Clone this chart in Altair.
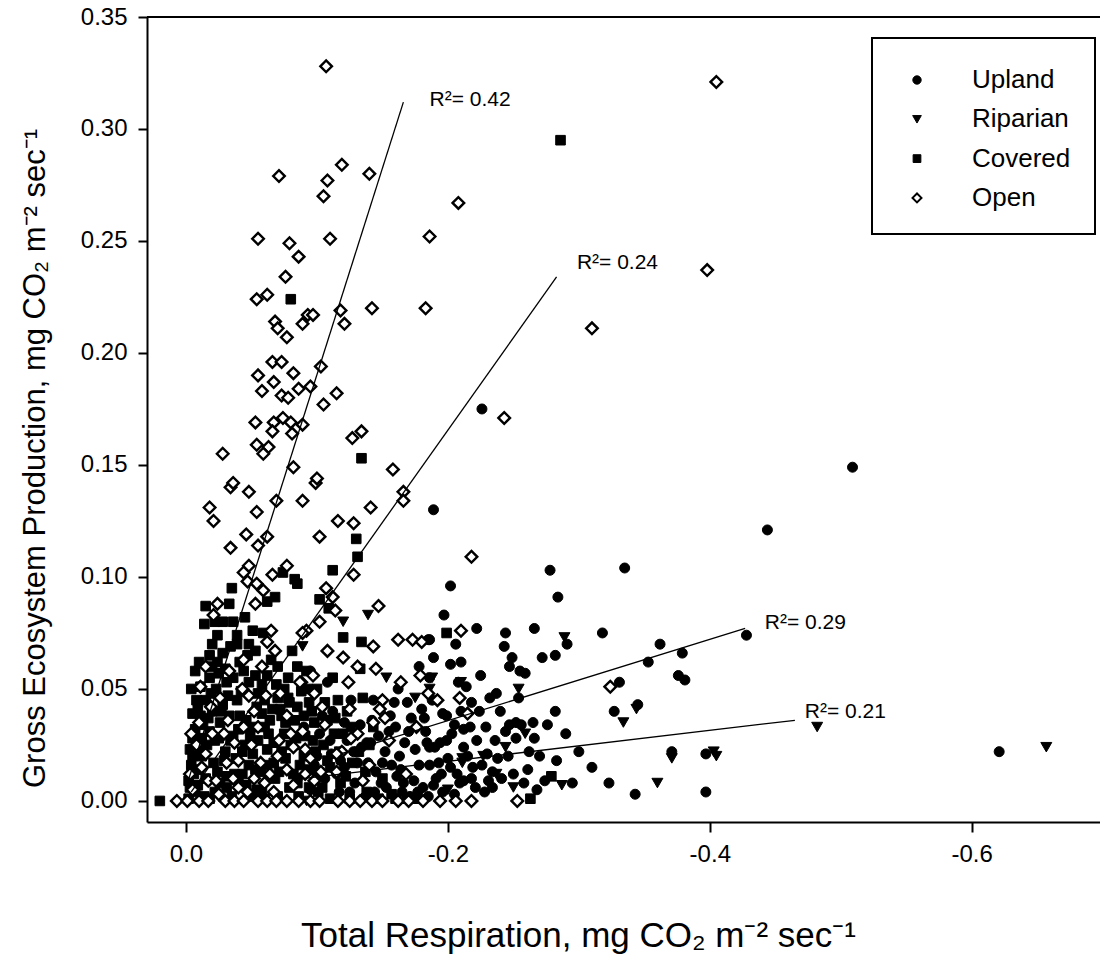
import altair as alt
import pandas as pd

# ---------------- data ----------------
groups = ["Upland", "Riparian", "Covered", "Open"]
shapes = ["circle", "triangle-down", "square", "diamond"]
fills = ["black", "black", "black", "white"]
sizes = [100, 120, 92, 135]
strokes = [1, 1, 1, 2.4]
legend_sizes = [70, 75, 60, 80]

upland = [
    (-0.226, 0.175), (-0.509, 0.149), (-0.189, 0.130), (-0.444, 0.121), (-0.278, 0.103),
    (-0.335, 0.104), (-0.202, 0.096), (-0.284, 0.091), (-0.197, 0.083), (-0.222, 0.077),
    (-0.244, 0.075), (-0.266, 0.077), (-0.318, 0.075), (-0.186, 0.072), (-0.243, 0.069),
    (-0.291, 0.070), (-0.206, 0.070), (-0.362, 0.070), (-0.189, 0.064), (-0.282, 0.065),
    (-0.272, 0.064), (-0.379, 0.066), (-0.249, 0.064), (-0.247, 0.060), (-0.202, 0.061),
    (-0.210, 0.062), (-0.353, 0.062), (-0.255, 0.058), (-0.259, 0.057), (-0.376, 0.056),
    (-0.381, 0.054), (-0.331, 0.053), (-0.208, 0.053), (-0.214, 0.051), (-0.237, 0.048),
    (-0.254, 0.046), (-0.218, 0.044), (-0.282, 0.040), (-0.199, 0.038), (-0.327, 0.040),
    (-0.345, 0.043), (-0.276, 0.034), (-0.212, 0.032), (-0.247, 0.034), (-0.252, 0.035),
    (-0.256, 0.034), (-0.265, 0.035), (-0.244, 0.031), (-0.266, 0.028), (-0.236, 0.027),
    (-0.186, 0.024), (-0.194, 0.026), (-0.199, 0.027), (-0.212, 0.024), (-0.238, 0.019),
    (-0.219, 0.015), (-0.226, 0.016), (-0.234, 0.013), (-0.261, 0.014), (-0.207, 0.012),
    (-0.212, 0.009), (-0.218, 0.010), (-0.250, 0.012), (-0.189, 0.007), (-0.234, 0.006),
    (-0.274, 0.009), (-0.295, 0.008), (-0.323, 0.008), (-0.343, 0.003), (-0.397, 0.004),
    (-0.397, 0.021), (-0.371, 0.022), (-0.428, 0.074), (-0.621, 0.022),
    (-0.108, 0.053), (-0.185, 0.072), (-0.169, 0.044), (-0.182, 0.037), (-0.196, 0.039),
    (-0.167, 0.026), (-0.150, 0.017), (-0.161, 0.011), (-0.131, 0.017), (-0.141, 0.026),
    (-0.135, 0.009), (-0.181, 0.006), (-0.202, 0.015), (-0.209, 0.008), (-0.191, 0.010),
    (-0.138, 0.026), (-0.175, 0.023), (-0.190, 0.024), (-0.200, 0.019), (-0.145, 0.013),
    (-0.157, 0.016), (-0.174, 0.009), (-0.153, 0.006), (-0.125, 0.004), (-0.171, 0.002),
    (-0.160, 0.033), (-0.183, 0.031), (-0.121, 0.035), (-0.110, 0.027), (-0.100, 0.020),
    (-0.095, 0.058), (-0.115, 0.012), (-0.128, 0.022), (-0.165, 0.004), (-0.186, 0.016),
    (-0.196, 0.004), (-0.228, 0.004), (-0.241, 0.010), (-0.222, 0.027), (-0.229, 0.033),
    (-0.205, 0.034), (-0.270, 0.020), (-0.283, 0.018), (-0.300, 0.022), (-0.186, 0.055),
    (-0.095, 0.005), (-0.102, 0.030), (-0.106, 0.010), (-0.112, 0.040), (-0.118, 0.018),
    (-0.123, 0.027), (-0.129, 0.008), (-0.133, 0.034), (-0.139, 0.017), (-0.144, 0.004),
    (-0.147, 0.029), (-0.152, 0.022), (-0.156, 0.038), (-0.163, 0.020), (-0.166, 0.008),
    (-0.170, 0.031), (-0.178, 0.016), (-0.180, 0.041), (-0.185, 0.002), (-0.193, 0.017),
    (-0.203, 0.030), (-0.205, 0.003), (-0.215, 0.020), (-0.221, 0.006), (-0.230, 0.021),
    (-0.240, 0.040), (-0.232, 0.046), (-0.225, 0.056), (-0.262, 0.022), (-0.268, 0.005),
    (-0.290, 0.030), (-0.310, 0.015), (-0.178, 0.060), (-0.162, 0.050), (-0.143, 0.045),
    (-0.085, 0.010), (-0.090, 0.033), (-0.098, 0.016), (-0.104, 0.038), (-0.111, 0.021),
    (-0.117, 0.004), (-0.121, 0.015), (-0.126, 0.045), (-0.134, 0.024), (-0.137, 0.002),
    (-0.142, 0.036), (-0.149, 0.008), (-0.155, 0.031), (-0.159, 0.044), (-0.164, 0.014),
    (-0.172, 0.037), (-0.177, 0.004), (-0.184, 0.026), (-0.188, 0.045), (-0.195, 0.012),
    (-0.210, 0.040), (-0.217, 0.033), (-0.224, 0.040), (-0.231, 0.009), (-0.246, 0.020),
    (-0.252, 0.028), (-0.258, 0.008),
]

riparian = [
    (-0.139, 0.083), (-0.120, 0.080), (-0.089, 0.069), (-0.153, 0.055), (-0.175, 0.046),
    (-0.188, 0.055), (-0.289, 0.073), (-0.254, 0.050), (-0.259, 0.030), (-0.244, 0.024),
    (-0.211, 0.017), (-0.237, 0.012), (-0.250, 0.006), (-0.200, 0.005), (-0.287, 0.007),
    (-0.360, 0.008), (-0.344, 0.041), (-0.334, 0.035), (-0.371, 0.019), (-0.405, 0.020),
    (-0.403, 0.022), (-0.482, 0.033), (-0.657, 0.024), (-0.210, 0.053), (-0.227, 0.020),
    (-0.092, 0.000), (-0.186, 0.050), (-0.211, 0.019),
]

covered = [
    (-0.286, 0.295), (-0.080, 0.224), (-0.134, 0.153), (-0.130, 0.117), (-0.035, 0.095),
    (-0.015, 0.087), (-0.014, 0.079), (-0.024, 0.074), (-0.039, 0.074), (-0.034, 0.069),
    (-0.024, 0.062), (-0.030, 0.059), (-0.018, 0.055), (-0.031, 0.053), (-0.005, 0.039),
    (-0.011, 0.038), (-0.007, 0.032), (-0.018, 0.031), (-0.026, 0.035), (-0.002, 0.009),
    (-0.003, 0.006), (-0.041, 0.062), (-0.044, 0.058), (-0.047, 0.065), (-0.053, 0.056),
    (-0.051, 0.076), (-0.059, 0.075), (-0.062, 0.089), (-0.068, 0.091), (-0.074, 0.102),
    (-0.083, 0.099), (-0.085, 0.097), (-0.112, 0.103), (-0.131, 0.109), (-0.102, 0.090),
    (-0.109, 0.086), (-0.120, 0.073), (-0.134, 0.071), (-0.053, 0.067), (-0.081, 0.067),
    (-0.092, 0.058), (-0.093, 0.050), (-0.116, 0.045), (-0.135, 0.046), (-0.199, 0.075),
    (-0.108, 0.036), (-0.098, 0.035), (-0.110, 0.001), (-0.147, 0.001), (-0.169, 0.001),
    (-0.176, 0.001), (-0.054, 0.042), (-0.070, 0.046), (-0.079, 0.044), (-0.085, 0.042),
    (-0.011, 0.051), (-0.005, 0.028), (0.020, 0.000), (-0.133, 0.059), (-0.279, 0.011),
    (-0.263, 0.001), (-0.039, 0.070), (-0.023, 0.050), (-0.039, 0.045), (-0.055, 0.048),
    (-0.072, 0.041), (-0.010, 0.014), (-0.031, 0.011), (-0.040, 0.008), (-0.054, 0.005),
    (-0.067, 0.017), (-0.062, 0.023), (-0.012, 0.020), (-0.007, 0.004), (-0.090, 0.038),
    (-0.060, 0.033), (-0.075, 0.030), (-0.045, 0.025), (-0.030, 0.022), (-0.020, 0.040),
    (-0.015, 0.045), (-0.040, 0.032), (-0.090, 0.020), (-0.100, 0.012), (-0.125, 0.001),
    (-0.018, 0.001), (-0.157, 0.003), (-0.120, 0.030), (-0.140, 0.025), (-0.082, 0.012),
    (-0.070, 0.002), (-0.035, 0.002), (-0.048, 0.016), (-0.025, 0.028), (-0.028, 0.066),
    (-0.036, 0.080), (-0.065, 0.063), (-0.078, 0.055), (-0.100, 0.050), (-0.112, 0.055),
    (-0.123, 0.040), (-0.105, 0.025), (-0.058, 0.052), (-0.020, 0.070), (-0.005, 0.020),
    (-0.002, 0.001),
    (-0.008, 0.045), (-0.013, 0.034), (-0.016, 0.025), (-0.021, 0.017), (-0.026, 0.008),
    (-0.028, 0.043), (-0.033, 0.038), (-0.036, 0.029), (-0.038, 0.019), (-0.043, 0.012),
    (-0.046, 0.036), (-0.049, 0.029), (-0.051, 0.021), (-0.057, 0.013), (-0.058, 0.039),
    (-0.063, 0.030), (-0.066, 0.041), (-0.068, 0.010), (-0.073, 0.022), (-0.076, 0.035),
    (-0.079, 0.006), (-0.084, 0.028), (-0.087, 0.016), (-0.094, 0.044), (-0.097, 0.027),
    (-0.104, 0.006), (-0.108, 0.018), (-0.113, 0.030), (-0.118, 0.008), (-0.127, 0.017),
    (-0.036, 0.055), (-0.042, 0.049), (-0.062, 0.056), (-0.070, 0.060), (-0.075, 0.050),
    (-0.085, 0.060), (-0.020, 0.060), (-0.028, 0.080), (-0.045, 0.082), (-0.018, 0.065),
    (-0.007, 0.058), (-0.004, 0.016), (-0.009, 0.007), (-0.014, 0.002), (-0.022, 0.004),
    (-0.031, 0.006), (-0.050, 0.002), (-0.060, 0.001), (-0.086, 0.002), (-0.094, 0.006),
    (-0.138, 0.004), (-0.150, 0.010), (-0.160, 0.001), (-0.012, 0.028), (-0.003, 0.023),
    (-0.004, 0.050), (-0.006, 0.012), (-0.009, 0.042), (-0.011, 0.024), (-0.015, 0.010),
    (-0.017, 0.037), (-0.019, 0.048), (-0.022, 0.027), (-0.024, 0.013), (-0.027, 0.040),
    (-0.029, 0.018), (-0.032, 0.047), (-0.034, 0.027), (-0.037, 0.012), (-0.041, 0.038),
    (-0.043, 0.022), (-0.046, 0.007), (-0.048, 0.053), (-0.050, 0.033), (-0.053, 0.014),
    (-0.055, 0.027), (-0.058, 0.004), (-0.060, 0.045), (-0.062, 0.016), (-0.064, 0.036),
    (-0.067, 0.026), (-0.069, 0.052), (-0.071, 0.013), (-0.073, 0.038), (-0.076, 0.019),
    (-0.078, 0.046), (-0.080, 0.025), (-0.083, 0.036), (-0.085, 0.008), (-0.088, 0.049),
    (-0.091, 0.029), (-0.093, 0.014), (-0.096, 0.040), (-0.099, 0.022), (-0.101, 0.004),
    (-0.106, 0.044), (-0.110, 0.015), (-0.114, 0.037), (-0.117, 0.022), (-0.122, 0.011),
    (-0.126, 0.033), (-0.132, 0.022), (-0.137, 0.013), (-0.143, 0.033), (-0.010, 0.062),
    (-0.025, 0.057), (-0.048, 0.070), (-0.033, 0.088), (-0.022, 0.080),
]

open_plots = [
    (-0.107, 0.328), (-0.071, 0.279), (-0.108, 0.277), (-0.119, 0.284), (-0.105, 0.270),
    (-0.140, 0.280), (-0.055, 0.251), (-0.079, 0.249), (-0.110, 0.251), (-0.086, 0.243),
    (-0.186, 0.252), (-0.076, 0.234), (-0.054, 0.224), (-0.062, 0.226), (-0.208, 0.267),
    (-0.405, 0.321), (-0.398, 0.237), (-0.118, 0.219), (-0.142, 0.220), (-0.183, 0.220),
    (-0.068, 0.214), (-0.070, 0.211), (-0.089, 0.213), (-0.093, 0.217), (-0.097, 0.217),
    (-0.121, 0.213), (-0.077, 0.207), (-0.066, 0.196), (-0.073, 0.196), (-0.055, 0.190),
    (-0.082, 0.191), (-0.103, 0.194), (-0.067, 0.187), (-0.058, 0.183), (-0.073, 0.181),
    (-0.078, 0.180), (-0.086, 0.184), (-0.095, 0.185), (-0.105, 0.177), (-0.115, 0.182),
    (-0.053, 0.169), (-0.067, 0.169), (-0.074, 0.171), (-0.080, 0.169), (-0.089, 0.168),
    (-0.066, 0.165), (-0.081, 0.164), (-0.127, 0.162), (-0.134, 0.165), (-0.054, 0.159),
    (-0.063, 0.158), (-0.059, 0.155), (-0.028, 0.155), (-0.158, 0.148), (-0.082, 0.149),
    (-0.034, 0.140), (-0.036, 0.142), (-0.048, 0.138), (-0.099, 0.142), (-0.100, 0.144),
    (-0.166, 0.138), (-0.166, 0.134), (-0.018, 0.131), (-0.021, 0.125), (-0.069, 0.134),
    (-0.089, 0.134), (-0.141, 0.131), (-0.054, 0.129), (-0.116, 0.125), (-0.128, 0.124),
    (-0.046, 0.119), (-0.102, 0.118), (-0.034, 0.113), (-0.055, 0.114), (-0.062, 0.118),
    (-0.310, 0.211), (-0.243, 0.171), (-0.218, 0.109),
    (-0.044, 0.102), (-0.047, 0.098), (-0.048, 0.105), (-0.053, 0.088), (-0.054, 0.097),
    (-0.059, 0.094), (-0.066, 0.101), (-0.077, 0.105), (-0.024, 0.088), (-0.021, 0.083),
    (-0.107, 0.095), (-0.112, 0.091), (-0.114, 0.085), (-0.102, 0.080), (-0.092, 0.076),
    (-0.128, 0.101), (-0.147, 0.087), (-0.108, 0.067), (-0.120, 0.064), (-0.143, 0.069),
    (-0.162, 0.072), (-0.173, 0.072), (-0.180, 0.071), (-0.210, 0.076),
    (-0.131, 0.060), (-0.145, 0.059), (-0.088, 0.053), (-0.097, 0.056), (-0.124, 0.053),
    (-0.164, 0.053), (-0.179, 0.056), (-0.185, 0.048), (-0.192, 0.045), (-0.209, 0.046),
    (-0.215, 0.039), (-0.324, 0.051), (-0.150, 0.045), (-0.104, 0.042), (-0.148, 0.041),
    (-0.125, 0.041), (-0.152, 0.037), (-0.143, 0.035), (-0.131, 0.030), (-0.089, 0.031),
    (-0.091, 0.023), (-0.119, 0.022), (-0.115, 0.021), (-0.103, 0.013), (-0.115, 0.013),
    (-0.091, 0.012), (-0.135, 0.009),
    (-0.011, 0.051), (-0.065, 0.076), (-0.062, 0.071), (-0.068, 0.067), (-0.089, 0.075),
    (-0.044, 0.063), (-0.043, 0.050), (-0.087, 0.053), (-0.026, 0.046), (-0.052, 0.040),
    (-0.061, 0.047), (-0.044, 0.033), (-0.077, 0.038), (-0.071, 0.027), (-0.008, 0.025),
    (-0.015, 0.021), (-0.031, 0.017), (-0.037, 0.026), (-0.057, 0.017), (-0.082, 0.024),
    (-0.017, 0.009), (-0.023, 0.009), (-0.036, 0.010), (-0.052, 0.010), (-0.077, 0.014),
    (-0.082, 0.007), (-0.047, 0.004), (-0.067, 0.004), (-0.025, 0.003), (-0.040, 0.006),
    (-0.060, 0.008), (-0.095, 0.019), (-0.032, 0.036), (-0.020, 0.030), (-0.050, 0.025),
    (-0.070, 0.020), (-0.012, 0.015), (-0.005, 0.005), (-0.003, 0.012),
    (-0.010, 0.035), (-0.019, 0.042), (-0.029, 0.030), (-0.040, 0.018), (-0.048, 0.047),
    (-0.055, 0.033), (-0.064, 0.012), (-0.072, 0.048), (-0.080, 0.030), (-0.098, 0.009),
    (-0.106, 0.034), (-0.126, 0.028), (-0.140, 0.016), (-0.155, 0.027), (-0.168, 0.012),
    (-0.176, 0.033), (-0.098, 0.048), (-0.058, 0.060), (-0.033, 0.058), (-0.015, 0.060),
    (-0.004, 0.030),
    (0.007, 0.000), (-0.001, 0.000), (-0.010, 0.000), (-0.017, 0.000), (-0.030, 0.000),
    (-0.037, 0.000), (-0.044, 0.000), (-0.055, 0.000), (-0.062, 0.000), (-0.069, 0.000),
    (-0.077, 0.000), (-0.086, 0.000), (-0.095, 0.000), (-0.102, 0.000), (-0.116, 0.000),
    (-0.125, 0.000), (-0.133, 0.000), (-0.142, 0.000), (-0.150, 0.000), (-0.162, 0.000),
    (-0.170, 0.000), (-0.181, 0.000), (-0.194, 0.000), (-0.206, 0.000), (-0.218, 0.000),
    (-0.253, 0.000),
]

# regression lines and their R² labels
fit_group = ["Open", "Covered", "Upland", "Riparian"]
fit_x0 = [0.000, -0.004, -0.118, -0.089]
fit_y0 = [0.006, 0.004, 0.021, 0.010]
fit_x1 = [-0.166, -0.283, -0.427, -0.465]
fit_y1 = [0.312, 0.234, 0.077, 0.036]
r2_text = ["R²= 0.42", "R²= 0.24", "R²= 0.29", "R²= 0.21"]
r2_x = [-0.186, -0.2985, -0.442, -0.4725]
r2_y = [0.313, 0.240, 0.0795, 0.0397]

x_ticks = [0.0, -0.2, -0.4, -0.6]
y_ticks = [0.0, 0.05, 0.10, 0.15, 0.20, 0.25, 0.30, 0.35]

# ---------------- build tables ----------------
group_pts = [upland, riparian, covered, open_plots]
line_rows = []
for g, a, b, c, d in zip(fit_group, fit_x0, fit_y0, fit_x1, fit_y1):
    line_rows.append({"g": g, "tr": a, "gep": b})
    line_rows.append({"g": g, "tr": c, "gep": d})
lines_df = pd.DataFrame(line_rows)
lab_df = pd.DataFrame({"t": r2_text, "tr": r2_x, "gep": r2_y})

FONT = "Liberation Sans, Arial, Helvetica, sans-serif"
W, H = 953, 805
MINUS = "\u2212"

xs = alt.Scale(domain=[-0.698, 0.0298], reverse=True, nice=False, zero=False)
ys = alt.Scale(domain=[-0.0094, 0.35], nice=False, zero=False)

x_axis = alt.Axis(values=x_ticks, tickSize=10, labelPadding=10,
                  labelExpr="replace(format(datum.value, '.1f'), '" + MINUS + "', '-')",
                  title="Total Respiration, mg CO₂ m⁻² sec⁻¹", titleFontSize=35,
                  titleX=431, titleY=113, titleAlign="center", titleBaseline="middle")
y_axis = alt.Axis(values=y_ticks, format=".2f", tickSize=9, labelPadding=11,
                  title="Gross Ecosystem Production, mg CO₂ m⁻² sec⁻¹",
                  titleX=-112, titleY=441, titleAngle=-90,
                  titleAlign="center", titleBaseline="middle")

point_layers = []
for g, pts, shp, fc, sz, sw in zip(groups, group_pts, shapes, fills, sizes, strokes):
    gdf = pd.DataFrame({"tr": [p[0] for p in pts], "gep": [p[1] for p in pts], "group": g})
    point_layers.append(
        alt.Chart(gdf).mark_point(shape=shp, filled=True, fill=fc, stroke="black",
                                  strokeWidth=sw, size=sz, opacity=1).encode(
            x=alt.X("tr:Q", scale=xs, axis=x_axis),
            y=alt.Y("gep:Q", scale=ys, axis=y_axis)))

fits = alt.Chart(lines_df).mark_line(color="black", strokeWidth=1.3).encode(
    x=alt.X("tr:Q", scale=xs, axis=x_axis),
    y=alt.Y("gep:Q", scale=ys, axis=y_axis),
    detail="g:N",
)

labels = alt.Chart(lab_df).mark_text(align="left", baseline="middle", font=FONT,
                                     fontSize=21, color="black").encode(
    x=alt.X("tr:Q", scale=xs, axis=x_axis),
    y=alt.Y("gep:Q", scale=ys, axis=y_axis),
    text="t:N",
)

top = alt.Chart(pd.DataFrame({"gep": [0.35]})).mark_rule(color="black", strokeWidth=2).encode(
    y=alt.Y("gep:Q", scale=ys, axis=y_axis),
    x=alt.value(0),
    x2=alt.value(W),
)

# ---------------- legend box (drawn as marks) ----------------
LX0, LX1, LY0, LY1 = 725, 948, 21, 217
SYM_X, LAB_X, ROW0, ROW_STEP = 770, 825, 63, 39.3

legend_layers = [
    alt.Chart(pd.DataFrame({"k": [0]})).mark_rect(fill="white", stroke="black", strokeWidth=2).encode(
        x=alt.value(LX0), x2=alt.value(LX1), y=alt.value(LY0), y2=alt.value(LY1))
]
for i, (g, shp, fc, sz, sw) in enumerate(zip(groups, shapes, fills, legend_sizes, strokes)):
    yy = ROW0 + ROW_STEP * i
    legend_layers.append(
        alt.Chart(pd.DataFrame({"g": [g]})).mark_point(
            shape=shp, filled=True, fill=fc, stroke="black", strokeWidth=min(sw, 2.0),
            size=sz, opacity=1).encode(x=alt.value(SYM_X), y=alt.value(yy)))
    legend_layers.append(
        alt.Chart(pd.DataFrame({"g": [g]})).mark_text(
            align="left", baseline="middle", font=FONT, fontSize=26, color="black").encode(
            x=alt.value(LAB_X), y=alt.value(yy), text="g:N"))

chart = alt.layer(*point_layers, fits, labels, top, *legend_layers).properties(
    width=W, height=H,
    autosize=alt.AutoSizeParams(type="none"),
    padding={"left": 147, "top": 17, "right": 0, "bottom": 145},
    background="white",
).configure_view(stroke=None).configure_axis(
    grid=False, domainColor="black", domainWidth=2, tickColor="black", tickWidth=2,
    labelFont=FONT, labelFontSize=24, labelColor="black",
    titleFont=FONT, titleFontSize=31, titleFontWeight="normal", titleColor="black",
)

chart.save("out.html", embed_options={"renderer": "svg", "actions": False})
